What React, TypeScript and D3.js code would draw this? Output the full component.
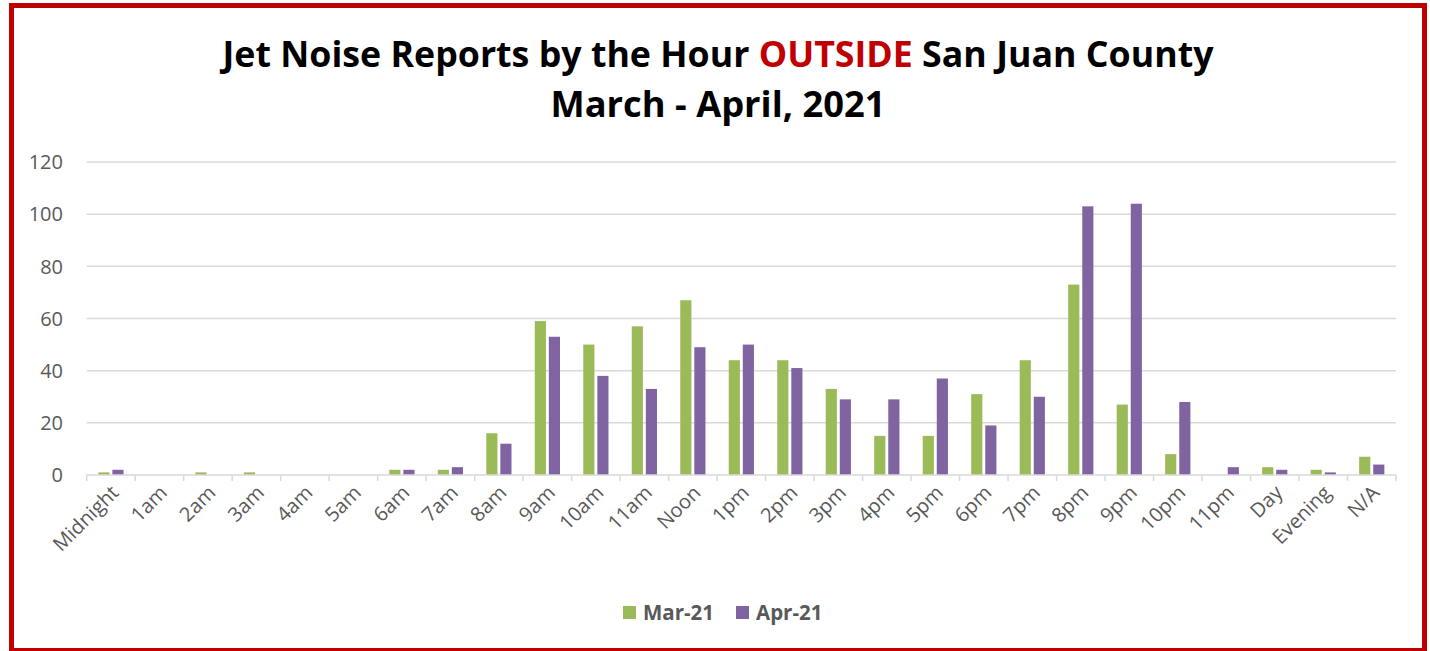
import React, { useEffect, useRef } from 'react'
import * as d3 from 'd3'

const categories = ['Midnight', '1am', '2am', '3am', '4am', '5am', '6am', '7am', '8am', '9am', '10am', '11am', 'Noon', '1pm', '2pm', '3pm', '4pm', '5pm', '6pm', '7pm', '8pm', '9pm', '10pm', '11pm', 'Day', 'Evening', 'N/A']
const mar21 = [1, 0, 1, 1, 0, 0, 2, 2, 16, 59, 50, 57, 67, 44, 44, 33, 15, 15, 31, 44, 73, 27, 8, 0, 3, 2, 7]
const apr21 = [2, 0, 0, 0, 0, 0, 2, 3, 12, 53, 38, 33, 49, 50, 41, 29, 29, 37, 19, 30, 103, 104, 28, 3, 2, 1, 4]
const seriesNames = ['Mar-21', 'Apr-21']
const yTicks = [0, 20, 40, 60, 80, 100, 120]

const colors = ['#9BBB59', '#8064A2']
const gray = '#595959'
const font = '"Open Sans", sans-serif'

export default function App() {
  const ref = useRef<SVGSVGElement>(null)

  useEffect(() => {
    const W = 1430, H = 651
    const svg = d3.select(ref.current)
    svg.selectAll('*').remove()
    svg.attr('width', W).attr('height', H)

    svg.append('rect').attr('width', W).attr('height', H).attr('fill', '#fff')
    // red frame
    svg.append('rect')
      .attr('x', 11.5).attr('y', 5.5).attr('width', 1413).attr('height', 645)
      .attr('fill', 'none').attr('stroke', '#C00000').attr('stroke-width', 5)

    // title
    const t1 = svg.append('text')
      .attr('x', 718).attr('y', 67).attr('text-anchor', 'middle')
      .attr('font-family', font).attr('font-weight', 'bold').attr('font-size', 36)
      .attr('fill', '#000')
    t1.append('tspan').text('Jet Noise Reports by the Hour ')
    t1.append('tspan').attr('fill', '#C00000').text('OUTSIDE')
    t1.append('tspan').text(' San Juan County')
    t1.attr('textLength', 991).attr('lengthAdjust', 'spacingAndGlyphs')

    svg.append('text')
      .attr('x', 718).attr('y', 117).attr('text-anchor', 'middle')
      .attr('font-family', font).attr('font-weight', 'bold').attr('font-size', 36)
      .attr('textLength', 335).attr('lengthAdjust', 'spacingAndGlyphs')
      .text('March - April, 2021')

    const left = 86.7, right = 1396, top = 162, bottom = 475

    const x = d3.scaleBand<string>().domain(categories).range([left, right]).padding(0)
    const y = d3.scaleLinear().domain([0, 120]).range([bottom, top])
    const bw = x.bandwidth()
    const barW = bw * 0.23
    const gap = bw * 0.06

    const g = svg.append('g')

    // gridlines
    g.selectAll('.grid').data(yTicks.filter(d => d > 0)).enter().append('line')
      .attr('x1', left).attr('x2', right)
      .attr('y1', d => y(d)).attr('y2', d => y(d))
      .attr('stroke', '#d9d9d9').attr('stroke-width', 1.5)

    // y labels
    g.selectAll('.ylab').data(yTicks).enter().append('text')
      .attr('x', 63).attr('y', d => y(d)).attr('dy', '0.36em')
      .attr('text-anchor', 'end').attr('font-family', font).attr('font-size', 20)
      .attr('fill', gray).text(d => d)

    // bars
    const series = [mar21, apr21]
    series.forEach((vals, si) => {
      g.selectAll('.bar' + si).data(vals).enter().append('rect')
        .attr('x', (d, i) => x(categories[i])! + bw / 2 + (si === 0 ? -gap / 2 - barW : gap / 2))
        .attr('y', d => y(d))
        .attr('width', barW)
        .attr('height', d => bottom - y(d))
        .attr('fill', colors[si])
    })

    // x axis line and ticks
    g.append('line')
      .attr('x1', left).attr('x2', right).attr('y1', bottom).attr('y2', bottom)
      .attr('stroke', '#d9d9d9').attr('stroke-width', 1.5)
    const tickPos = categories.map(c => x(c)!).concat([right])
    g.selectAll('.tick').data(tickPos).enter().append('line')
      .attr('x1', d => d).attr('x2', d => d).attr('y1', bottom).attr('y2', bottom + 6)
      .attr('stroke', '#d9d9d9').attr('stroke-width', 1.5)

    // x labels
    g.selectAll('.xlab').data(categories).enter().append('text')
      .attr('transform', d => `translate(${x(d)! + bw / 2 + 4},${bottom + 14}) rotate(-45)`)
      .attr('text-anchor', 'end').attr('dy', '0.35em')
      .attr('font-family', font).attr('font-size', 20).attr('fill', gray)
      .text(d => d)

    // legend
    const legendX = [623, 736]
    seriesNames.forEach((name, i) => {
      svg.append('rect').attr('x', legendX[i]).attr('y', 606).attr('width', 13).attr('height', 13)
        .attr('fill', colors[i])
      svg.append('text').attr('x', legendX[i] + 20).attr('y', 619.5)
        .attr('font-family', font).attr('font-weight', 'bold').attr('font-size', 20.5)
        .attr('fill', gray).text(name)
    })
  }, [])

  return <svg ref={ref} style={{ position: 'absolute', left: 0, top: 0, display: 'block' }} />
}
